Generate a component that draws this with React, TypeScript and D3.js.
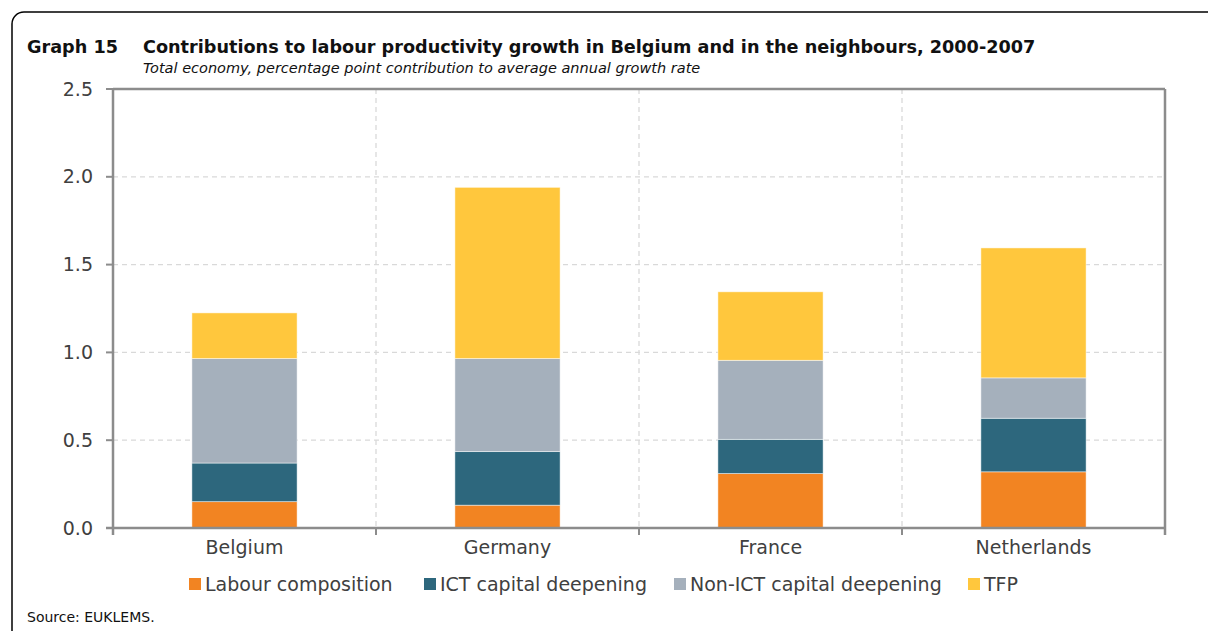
import React from 'react';
import { scaleBand, scaleLinear, stack } from 'd3';

const countries = ['Belgium', 'Germany', 'France', 'Netherlands'];
const seriesNames = ['Labour composition', 'ICT capital deepening', 'Non-ICT capital deepening', 'TFP'];
const labourComposition = [0.15, 0.13, 0.31, 0.32];
const ictCapital = [0.22, 0.305, 0.195, 0.305];
const nonIctCapital = [0.595, 0.53, 0.45, 0.23];
const tfp = [0.26, 0.975, 0.39, 0.74];
const yTicks = [0, 0.5, 1.0, 1.5, 2.0, 2.5];
const colors = ['#F28422', '#2D677D', '#A5B0BC', '#FFC73D'];

const W = 1208;
const H = 631;
const plot = { left: 113, right: 1165, top: 89, bottom: 528 };
const font = "'DejaVu Sans', sans-serif";
const textGrey = '#404040';
const axisGrey = '#8c8c8c';

export default function App() {
  const rows = countries.map((c, i) => ({
    country: c,
    s0: labourComposition[i],
    s1: ictCapital[i],
    s2: nonIctCapital[i],
    s3: tfp[i],
  }));
  const layers = stack<any>().keys(['s0', 's1', 's2', 's3'])(rows);

  const x = scaleBand().domain(countries).range([plot.left, plot.right]).paddingInner(0.6).paddingOuter(0.3);
  const xOuter = scaleBand().domain(countries).range([plot.left, plot.right]);
  const y = scaleLinear().domain([0, 2.5]).range([plot.bottom, plot.top]);

  // legend square positions
  const legendX = [189, 424, 674, 968];

  return (
    <div style={{ position: 'absolute', left: 0, top: 0 }}>
      <svg width={W} height={H} style={{ display: 'block', background: '#fff' }}>
        {/* outer frame */}
        <rect x={12} y={12} width={W + 20} height={H + 20} rx={12} fill="none" stroke="#000" strokeWidth={1.5} />

        {/* titles */}
        <text x={27} y={53} fontFamily={font} fontWeight="bold" fontSize={17.65} fill="#111">Graph 15</text>
        <text x={143} y={53} fontFamily={font} fontWeight="bold" fontSize={17.65} fill="#111">
          Contributions to labour productivity growth in Belgium and in the neighbours, 2000-2007
        </text>
        <text x={143} y={73} fontFamily={font} fontStyle="italic" fontSize={14.5} fill="#111">
          Total economy, percentage point contribution to average annual growth rate
        </text>

        {/* horizontal grid */}
        {yTicks.slice(1, -1).map((t) => (
          <line key={'h' + t} x1={plot.left} x2={plot.right} y1={y(t)} y2={y(t)} stroke="#d9d9d9" strokeWidth={1.3} strokeDasharray="5,4" />
        ))}
        {/* vertical grid */}
        {countries.slice(1).map((c) => (
          <line key={'v' + c} x1={xOuter(c)!} x2={xOuter(c)!} y1={plot.top} y2={plot.bottom} stroke="#d9d9d9" strokeWidth={1.3} strokeDasharray="5,4" />
        ))}

        {/* bars */}
        {layers.map((layer, li) => (
          <g key={li} fill={colors[li]}>
            {layer.map((d, i) => (
              <rect
                key={i}
                x={x(countries[i])!}
                width={x.bandwidth()}
                y={y(d[1])}
                height={y(d[0]) - y(d[1])}
                stroke="#ffffff"
                strokeOpacity={0.6}
                strokeWidth={0.8}
              />
            ))}
          </g>
        ))}

        {/* frame: top and right */}
        <line x1={plot.left} x2={plot.right} y1={plot.top} y2={plot.top} stroke={axisGrey} strokeWidth={2.5} />
        <line x1={plot.right} x2={plot.right} y1={plot.top} y2={plot.bottom + 7} stroke={axisGrey} strokeWidth={2.5} />
        {/* axes */}
        <line x1={plot.left} x2={plot.left} y1={plot.top - 1} y2={plot.bottom + 7} stroke={axisGrey} strokeWidth={2.5} />
        <line x1={plot.left - 7} x2={plot.right} y1={plot.bottom} y2={plot.bottom} stroke={axisGrey} strokeWidth={2.5} />

        {/* y ticks */}
        {yTicks.map((t) => (
          <g key={'yt' + t}>
            <line x1={plot.left - 7} x2={plot.left} y1={y(t)} y2={y(t)} stroke={axisGrey} strokeWidth={2} />
            <text x={93} y={y(t)} dy="0.35em" textAnchor="end" fontFamily={font} fontSize={19} fill={textGrey}>
              {t.toFixed(1)}
            </text>
          </g>
        ))}

        {/* x ticks at band boundaries */}
        {countries.slice(1).map((c) => (
          <line key={'xt' + c} x1={xOuter(c)!} x2={xOuter(c)!} y1={plot.bottom} y2={plot.bottom + 7} stroke={axisGrey} strokeWidth={2} />
        ))}

        {/* category labels */}
        {countries.map((c) => (
          <text key={'cl' + c} x={x(c)! + x.bandwidth() / 2} y={554} textAnchor="middle" fontFamily={font} fontSize={19} fill={textGrey}>
            {c}
          </text>
        ))}

        {/* legend */}
        {seriesNames.map((s, i) => (
          <g key={'lg' + s}>
            <rect x={legendX[i]} y={578} width={12} height={12} fill={colors[i]} />
            <text x={legendX[i] + 16} y={591} fontFamily={font} fontSize={19} fill={textGrey}>
              {s}
            </text>
          </g>
        ))}

        {/* source */}
        <text x={27} y={622} fontFamily={font} fontSize={14} fill="#111">Source: EUKLEMS.</text>
      </svg>
    </div>
  );
}
